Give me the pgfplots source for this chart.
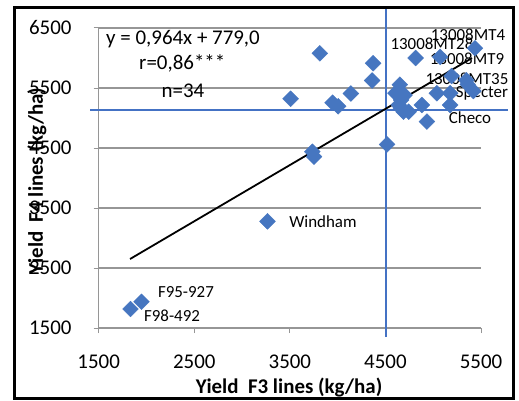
\documentclass[border=0pt]{standalone}
\usepackage{pgfplots}
\pgfplotsset{compat=1.18}
\usepackage{fontspec}
\setmainfont{Carlito}
\definecolor{ptblue}{RGB}{70,118,192}
\definecolor{lnblue}{RGB}{68,114,196}
\definecolor{gridgray}{RGB}{150,150,150}

\begin{document}
\begin{tikzpicture}[x=1bp,y=1bp]
\path[use as bounding box] (-98.7,-72) rectangle (420.3,328);
\begin{axis}[
  at={(0,0)}, anchor=south west,
  scale only axis, width=382.3bp, height=300bp,
  xmin=1500, xmax=5500, ymin=1500, ymax=6500,
  xtick={1500,2500,...,5500}, ytick={1500,2500,...,6500},
  axis lines*=left, axis line style={gridgray, line width=1.2bp},
  tick align=outside, major tick length=5bp, tick style={gridgray, line width=1bp},
  ymajorgrids, grid style={gridgray, line width=1.2bp},
  /pgf/number format/assume math mode=true,
  /pgf/number format/1000 sep={},
  ticklabel style={font=\fontsize{21}{24}\selectfont, text=black},
  xticklabel style={anchor=base, yshift=-35bp},
  yticklabel style={anchor=east, inner sep=0pt, xshift=-22bp},
  xlabel={Yield\ \ F3 lines (kg/ha)}, ylabel={Yield\ \ F4 lines (kg/ha)},
  label style={font=\fontsize{21}{24}\selectfont\bfseries},
  xlabel style={at={(axis description cs:0.498,-0.1967)}, anchor=center},
  ylabel style={at={(axis description cs:-0.1614,0.49)}, anchor=center},
  clip=false,
]
% mean lines
\addplot[lnblue, line width=1.7bp] coordinates {(4503,1350) (4503,6833)};
\addplot[lnblue, line width=1.7bp] coordinates {(1409,5133) (5783,5133)};

% lines
\addplot[only marks, mark=square*, mark size=5.6bp, ptblue,
  mark options={rotate=45, fill=ptblue, draw=ptblue}] coordinates {
  (3814,6078) (4371,5912) (4361,5625) (3508,5320) (4138,5408)
  (3947,5255) (4006,5195) (4650,5555) (4604,5415) (4625,5440)
  (4665,5300) (4639,5217) (4690,5105) (4743,5105) (4660,5170)
  (4881,5217) (4934,4940) (4816,6000) (5073,6018) (5038,5412)
  (5177,5412) (5177,5217) (5192,5700) (5437,6162) (5360,5560)
  (5420,5450) (5347,5630) (4700,5380) (4517,4560) (3735,4438)
  (3753,4355) (3266,3278) (1948,1938) (1833,1817)
};

% regression
\addplot[black, line width=1.8bp] coordinates {(1828,2650) (5406,6000)};

\node[font=\fontsize{21}{24}\selectfont] at (axis cs:2382,6317) {y = 0,964x + 779,0};
\node[font=\fontsize{21}{24}\selectfont] at (axis cs:2374,5917) {r=0,86***};
\node[font=\fontsize{21}{24}\selectfont] at (axis cs:2382,5450) {n=34};

\node[font=\fontsize{17}{20}\selectfont] at (axis cs:5364,6383) {13008MT4};
\node[font=\fontsize{17}{20}\selectfont] at (axis cs:4987,6233) {13008MT28};
\node[font=\fontsize{17}{20}\selectfont] at (axis cs:5353,5983) {13008MT9};
\node[font=\fontsize{17}{20}\selectfont] at (axis cs:5353,5650) {13008MT35};
\node[font=\fontsize{17}{20}\selectfont] at (axis cs:5510,5417) {Specter};
\node[font=\fontsize{17}{20}\selectfont] at (axis cs:5385,5000) {Checo};
\node[font=\fontsize{17}{20}\selectfont] at (axis cs:3847,3267) {Windham};
\node[font=\fontsize{17}{20}\selectfont] at (axis cs:2413,2100) {F95-927};
\node[font=\fontsize{17}{20}\selectfont] at (axis cs:2267,1700) {F98-492};
\end{axis}
\draw[line width=3bp] (-83.7,-70) rectangle (414.3,321);
\end{tikzpicture}
\end{document}
